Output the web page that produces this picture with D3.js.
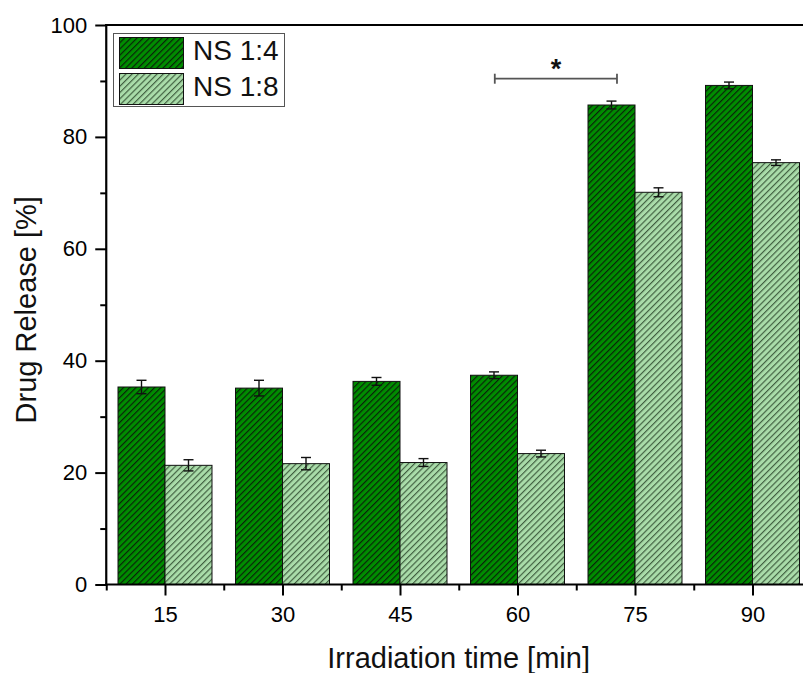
<!DOCTYPE html>
<html>
<head>
<meta charset="utf-8">
<script src="https://cdn.jsdelivr.net/npm/d3@7/dist/d3.min.js"></script>
<style>
  html, body { margin: 0; padding: 0; background: #fff; }
  svg { display: block; font-family: "Liberation Sans", Arial, sans-serif; }
</style>
</head>
<body>
<svg id="chart" width="803" height="673"></svg>
<script>
// Irradiation times (min) and drug release (%) for the two nanosystem ratios
const times = [15, 30, 45, 60, 75, 90];
const ns14 = [35.3, 35.1, 36.3, 37.4, 85.7, 89.2];
const ns14Err = [1.2, 1.4, 0.7, 0.6, 0.7, 0.6];
const ns18 = [21.3, 21.6, 21.8, 23.4, 70.1, 75.4];
const ns18Err = [1.0, 1.1, 0.7, 0.6, 0.8, 0.5];
const seriesNames = ["NS 1:4", "NS 1:8"];
const yTicks = [0, 20, 40, 60, 80, 100];
const yMinorTicks = [10, 30, 50, 70, 90];
const xMinorTicks = [7.5, 22.5, 37.5, 52.5, 67.5, 82.5, 97.5];
// significance bracket between the 60 and 75 min groups
const sigFrom = 57.1, sigTo = 72.7, sigLevel = 90.4, sigLabel = "*";

const svg = d3.select("#chart");
const x = d3.scaleLinear().domain([7.5, 97.5]).range([106.25, 811.25]);
const y = d3.scaleLinear().domain([0, 100]).range([584.5, 25]);
const barSpan = 6; // bar width in minutes

// hatch patterns
const defs = svg.append("defs");
const hp = 4.4;
function hatch(id, fill, lineColor) {
  const p = defs.append("pattern")
    .attr("id", id)
    .attr("patternUnits", "userSpaceOnUse")
    .attr("width", hp).attr("height", hp)
    .attr("patternTransform", "rotate(45)");
  p.append("rect").attr("width", hp).attr("height", hp).attr("fill", fill);
  p.append("line").attr("x1", 0.6).attr("y1", 0).attr("x2", 0.6).attr("y2", hp)
    .attr("stroke", lineColor).attr("stroke-width", 1.1);
}
hatch("hatchDark", "#008c00", "#0a1a0a");
hatch("hatchLight", "#a9dca9", "#3a583a");

const series = [
  { name: seriesNames[0], values: ns14, errs: ns14Err, fill: "url(#hatchDark)", offset: -barSpan },
  { name: seriesNames[1], values: ns18, errs: ns18Err, fill: "url(#hatchLight)", offset: 0 }
];

// bars
series.forEach(s => {
  const g = svg.append("g");
  g.selectAll("rect").data(times).join("rect")
    .attr("x", (t) => x(t + s.offset))
    .attr("width", x(barSpan) - x(0))
    .attr("y", (t, i) => y(s.values[i]))
    .attr("height", (t, i) => y(0) - y(s.values[i]))
    .attr("fill", s.fill)
    .attr("stroke", "#111")
    .attr("stroke-width", 1);
});

// error bars
series.forEach(s => {
  const g = svg.append("g").attr("stroke", "#111").attr("stroke-width", 1.4).attr("fill", "none");
  times.forEach((t, i) => {
    const cx = x(t + s.offset + barSpan / 2);
    const lo = y(s.values[i] - s.errs[i]);
    const hi = y(s.values[i] + s.errs[i]);
    g.append("line").attr("x1", cx).attr("x2", cx).attr("y1", lo).attr("y2", hi);
    g.append("line").attr("x1", cx - 5).attr("x2", cx + 5).attr("y1", hi).attr("y2", hi);
    g.append("line").attr("x1", cx - 5).attr("x2", cx + 5).attr("y1", lo).attr("y2", lo);
  });
});

// y axis
const yAxis = svg.append("g").attr("transform", `translate(${x(7.5)},0)`)
  .call(d3.axisLeft(y).tickValues(yTicks).tickSize(11).tickPadding(8).tickFormat(d3.format("d")));
yAxis.select(".domain").remove();
yAxis.selectAll(".tick line").attr("stroke", "#000").attr("stroke-width", 2);
yAxis.selectAll(".tick text").attr("font-size", 22).attr("fill", "#000")
  .attr("font-family", "Liberation Sans, Arial, sans-serif");
const yMinor = svg.append("g").attr("transform", `translate(${x(7.5)},0)`)
  .call(d3.axisLeft(y).tickValues(yMinorTicks).tickSize(6).tickFormat(""));
yMinor.select(".domain").remove();
yMinor.selectAll(".tick line").attr("stroke", "#000").attr("stroke-width", 2);

// x axis
const xAxis = svg.append("g").attr("transform", `translate(0,${y(0)})`)
  .call(d3.axisBottom(x).tickValues(times).tickSize(11).tickPadding(11).tickFormat(d3.format("d")));
xAxis.select(".domain").remove();
xAxis.selectAll(".tick line").attr("stroke", "#000").attr("stroke-width", 2);
xAxis.selectAll(".tick text").attr("font-size", 22).attr("fill", "#000")
  .attr("font-family", "Liberation Sans, Arial, sans-serif");
const xMinor = svg.append("g").attr("transform", `translate(0,${y(0)})`)
  .call(d3.axisBottom(x).tickValues(xMinorTicks).tickSize(6).tickFormat(""));
xMinor.select(".domain").remove();
xMinor.selectAll(".tick line").attr("stroke", "#000").attr("stroke-width", 2);

// frame lines: left, bottom, top
svg.append("line").attr("x1", x(7.5)).attr("x2", x(7.5)).attr("y1", y(100) - 1).attr("y2", y(0) + 1)
  .attr("stroke", "#000").attr("stroke-width", 2.2);
svg.append("line").attr("x1", x(7.5) - 1).attr("x2", x(97.5)).attr("y1", y(0)).attr("y2", y(0))
  .attr("stroke", "#000").attr("stroke-width", 2.2);
svg.append("line").attr("x1", x(7.5) - 1).attr("x2", x(97.5)).attr("y1", y(100)).attr("y2", y(100))
  .attr("stroke", "#000").attr("stroke-width", 2.2);

// significance bracket
const sig = svg.append("g").attr("stroke", "#555").attr("stroke-width", 1.8);
sig.append("line").attr("x1", x(sigFrom)).attr("x2", x(sigTo)).attr("y1", y(sigLevel)).attr("y2", y(sigLevel));
[sigFrom, sigTo].forEach(v => sig.append("line")
  .attr("x1", x(v)).attr("x2", x(v)).attr("y1", y(sigLevel) - 5).attr("y2", y(sigLevel) + 5));
svg.append("text").attr("x", x((sigFrom + sigTo) / 2)).attr("y", y(sigLevel) - 1)
  .attr("text-anchor", "middle").attr("font-size", 27).attr("font-weight", "bold")
  .attr("fill", "#111").text(sigLabel);

// axis titles
svg.append("text").attr("x", (x(7.5) + 803) / 2 + 4).attr("y", 668)
  .attr("text-anchor", "middle").attr("font-size", 29).attr("fill", "#111")
  .text("Irradiation time [min]");
svg.append("text").attr("transform", `translate(36,${(y(0) + y(100)) / 2 + 5}) rotate(-90)`)
  .attr("text-anchor", "middle").attr("font-size", 29).attr("fill", "#111")
  .text("Drug Release [%]");

// legend
const legend = svg.append("g");
legend.append("rect").attr("x", 113.5).attr("y", 33.5).attr("width", 171).attr("height", 73)
  .attr("fill", "#fff").attr("stroke", "#555").attr("stroke-width", 1);
series.forEach((s, i) => {
  const top = 37 + i * 36;
  legend.append("rect").attr("x", 119.5).attr("y", top + 0.5).attr("width", 64).attr("height", 31)
    .attr("fill", s.fill).attr("stroke", "#111").attr("stroke-width", 1);
  legend.append("text").attr("x", 193).attr("y", top + 23).attr("font-size", 28).attr("fill", "#111")
    .text(s.name);
});
</script>
</body>
</html>
